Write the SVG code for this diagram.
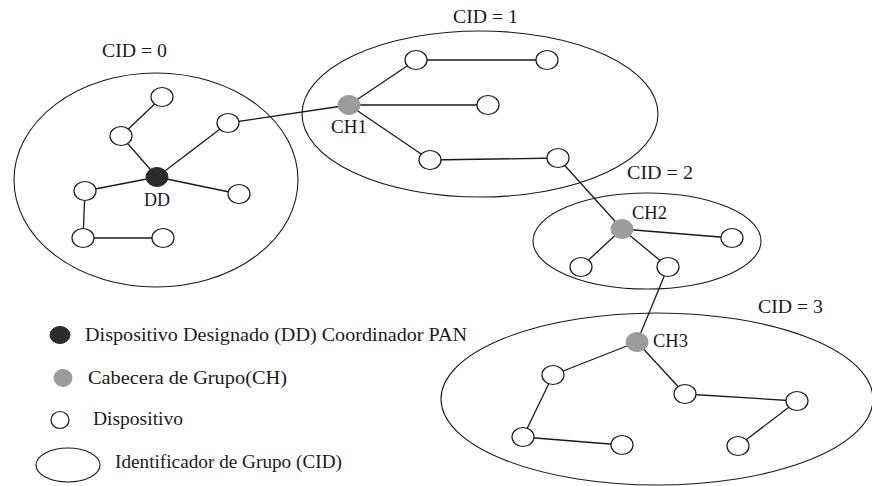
<svg xmlns="http://www.w3.org/2000/svg" width="872" height="486" viewBox="0 0 872 486">
  <style>
    .cluster { fill: none; stroke: #1a1a1a; stroke-width: 1.1; }
    .link { stroke: #1a1a1a; stroke-width: 1.3; fill: none; }
    .dev { fill: #fff; stroke: #1a1a1a; stroke-width: 1.2; }
    .dd { fill: #2b2b2b; stroke: #2b2b2b; stroke-width: 1; }
    .ch { fill: #9c9c9c; stroke: #9c9c9c; stroke-width: 1; }
    text { font-family: "Liberation Serif", "Times New Roman", "DejaVu Serif", serif; font-size: 18px; fill: #1a1a1a; }
  </style>
  <rect width="872" height="486" fill="#fff"/>

  <!-- cluster boundaries -->
  <g id="cid0"><ellipse class="cluster" cx="156" cy="180" rx="142" ry="107"/><text x="102" y="57" textLength="65" lengthAdjust="spacingAndGlyphs">CID = 0</text></g>
  <g id="cid1"><ellipse class="cluster" cx="480" cy="114" rx="178" ry="83"/><text x="453" y="23" textLength="65" lengthAdjust="spacingAndGlyphs">CID = 1</text></g>
  <g id="cid2"><ellipse class="cluster" cx="647" cy="241" rx="114" ry="48"/><text x="627" y="179" textLength="66" lengthAdjust="spacingAndGlyphs">CID = 2</text></g>
  <g id="cid3"><ellipse class="cluster" cx="657" cy="399" rx="216" ry="86"/><text x="758" y="313" textLength="65" lengthAdjust="spacingAndGlyphs">CID = 3</text></g>

  <!-- links between devices -->
  <g id="connectors">
    <line class="link" x1="162" y1="97" x2="121" y2="136"/>
    <line class="link" x1="121" y1="136" x2="157" y2="177"/>
    <line class="link" x1="228" y1="123" x2="157" y2="177"/>
    <line class="link" x1="85" y1="191" x2="157" y2="177"/>
    <line class="link" x1="239" y1="194" x2="157" y2="177"/>
    <line class="link" x1="85" y1="191" x2="83" y2="238"/>
    <line class="link" x1="83" y1="238" x2="163" y2="238"/>
    <line class="link" x1="228" y1="123" x2="349" y2="105"/>
    <line class="link" x1="349" y1="105" x2="416" y2="60"/>
    <line class="link" x1="416" y1="60" x2="547" y2="60"/>
    <line class="link" x1="349" y1="105" x2="488" y2="105"/>
    <line class="link" x1="349" y1="105" x2="430" y2="160"/>
    <line class="link" x1="430" y1="160" x2="558" y2="158"/>
    <line class="link" x1="558" y1="158" x2="622" y2="229"/>
    <line class="link" x1="622" y1="229" x2="732" y2="238"/>
    <line class="link" x1="622" y1="229" x2="581" y2="267"/>
    <line class="link" x1="622" y1="229" x2="668" y2="267"/>
    <line class="link" x1="668" y1="267" x2="637" y2="342"/>
    <line class="link" x1="637" y1="342" x2="553" y2="375"/>
    <line class="link" x1="553" y1="375" x2="523" y2="437"/>
    <line class="link" x1="523" y1="437" x2="622" y2="445"/>
    <line class="link" x1="637" y1="342" x2="685" y2="394"/>
    <line class="link" x1="685" y1="394" x2="797" y2="401"/>
    <line class="link" x1="797" y1="401" x2="738" y2="446"/>
  </g>

  <!-- cluster 0 -->
  <g id="dd"><ellipse class="dd" cx="157" cy="177" rx="11" ry="9.5"/><text x="157" y="206" text-anchor="middle" textLength="26" lengthAdjust="spacingAndGlyphs">DD</text></g>
  <g id="n0a"><ellipse class="dev" cx="162" cy="97" rx="11" ry="9.5"/></g>
  <g id="n0b"><ellipse class="dev" cx="121" cy="136" rx="11" ry="9.5"/></g>
  <g id="n0c"><ellipse class="dev" cx="228" cy="123" rx="11" ry="9.5"/></g>
  <g id="n0d"><ellipse class="dev" cx="85" cy="191" rx="11" ry="9.5"/></g>
  <g id="n0e"><ellipse class="dev" cx="239" cy="194" rx="11" ry="9.5"/></g>
  <g id="n0f"><ellipse class="dev" cx="83" cy="238" rx="11" ry="9.5"/></g>
  <g id="n0g"><ellipse class="dev" cx="163" cy="238" rx="11" ry="9.5"/></g>

  <!-- cluster 1 -->
  <g id="ch1"><ellipse class="ch" cx="349" cy="105" rx="11" ry="9.5"/><text x="331" y="133" textLength="36" lengthAdjust="spacingAndGlyphs">CH1</text></g>
  <g id="n1a"><ellipse class="dev" cx="416" cy="60" rx="11" ry="9.5"/></g>
  <g id="n1b"><ellipse class="dev" cx="547" cy="60" rx="11" ry="9.5"/></g>
  <g id="n1c"><ellipse class="dev" cx="488" cy="105" rx="11" ry="9.5"/></g>
  <g id="n1d"><ellipse class="dev" cx="430" cy="160" rx="11" ry="9.5"/></g>
  <g id="n1e"><ellipse class="dev" cx="558" cy="158" rx="11" ry="9.5"/></g>

  <!-- cluster 2 -->
  <g id="ch2"><ellipse class="ch" cx="622" cy="229" rx="11" ry="9.5"/><text x="632" y="219" textLength="35" lengthAdjust="spacingAndGlyphs">CH2</text></g>
  <g id="n2a"><ellipse class="dev" cx="732" cy="238" rx="11" ry="9.5"/></g>
  <g id="n2b"><ellipse class="dev" cx="581" cy="267" rx="11" ry="9.5"/></g>
  <g id="n2c"><ellipse class="dev" cx="668" cy="267" rx="11" ry="9.5"/></g>

  <!-- cluster 3 -->
  <g id="ch3"><ellipse class="ch" cx="637" cy="342" rx="11" ry="9.5"/><text x="653" y="347" textLength="35" lengthAdjust="spacingAndGlyphs">CH3</text></g>
  <g id="n3a"><ellipse class="dev" cx="553" cy="375" rx="11" ry="9.5"/></g>
  <g id="n3b"><ellipse class="dev" cx="523" cy="437" rx="11" ry="9.5"/></g>
  <g id="n3c"><ellipse class="dev" cx="622" cy="445" rx="11" ry="9.5"/></g>
  <g id="n3d"><ellipse class="dev" cx="685" cy="394" rx="11" ry="9.5"/></g>
  <g id="n3e"><ellipse class="dev" cx="797" cy="401" rx="11" ry="9.5"/></g>
  <g id="n3f"><ellipse class="dev" cx="738" cy="446" rx="11" ry="9.5"/></g>

  <!-- legend -->
  <g id="legend">
    <ellipse class="dd" cx="60" cy="335" rx="10" ry="8.5"/>
    <text x="85" y="341" textLength="382" lengthAdjust="spacingAndGlyphs">Dispositivo Designado (DD) Coordinador PAN</text>
    <ellipse class="ch" cx="63" cy="378" rx="9" ry="8.5"/>
    <text x="88" y="384" textLength="199" lengthAdjust="spacingAndGlyphs">Cabecera de Grupo(CH)</text>
    <ellipse class="dev" cx="60" cy="420" rx="9" ry="8.5"/>
    <text x="93" y="425" textLength="90" lengthAdjust="spacingAndGlyphs">Dispositivo</text>
    <ellipse class="cluster" cx="68" cy="465" rx="32" ry="17"/>
    <text x="115" y="468" textLength="227" lengthAdjust="spacingAndGlyphs">Identificador de Grupo (CID)</text>
  </g>
</svg>
